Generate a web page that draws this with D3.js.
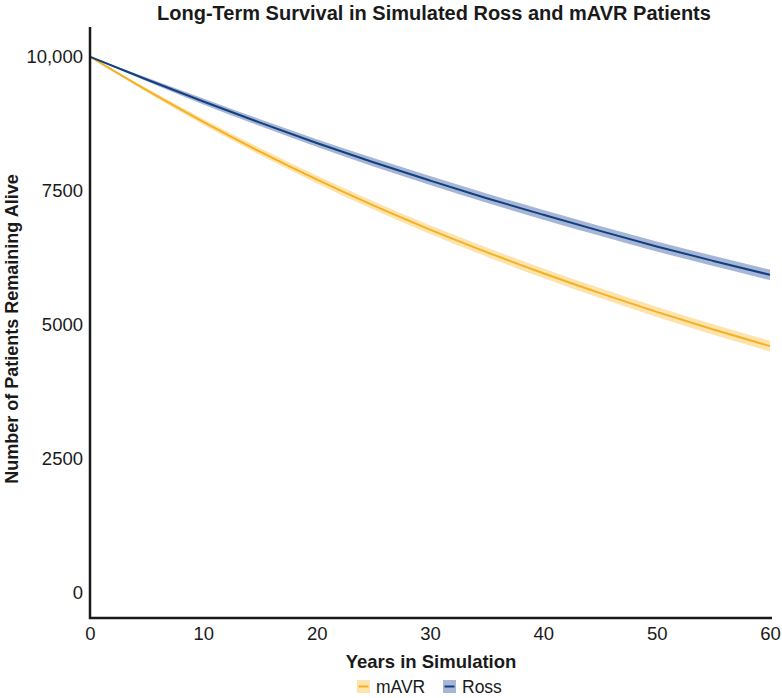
<!DOCTYPE html>
<html><head><meta charset="utf-8">
<script src="https://cdn.jsdelivr.net/npm/d3@7"></script>
<style>body{margin:0;background:#fff;}svg{display:block;}</style>
</head><body>
<script>
const years = [0,5,10,15,20,25,30,35,40,45,50,55,60];
const rossMean = [10000,9575,9165,8770,8390,8030,7690,7360,7050,6750,6460,6190,5930];
const mavrMean = [10000,9375,8785,8230,7710,7225,6775,6355,5960,5590,5240,4910,4600];
const rossHalf = [0,35,55,65,72,78,82,86,90,92,94,96,98];
const mavrHalf = [0,35,55,65,72,78,82,86,90,94,96,98,100];
const yTicks = [0,2500,5000,7500,10000];
const yTickLabels = ["0","2500","5000","7500","10,000"];
const xTicks = [0,10,20,30,40,50,60];
const seriesNames = ["mAVR","Ross"];

const W=782,H=698;
const svg=d3.select("body").append("svg").attr("width",W).attr("height",H);
const x=d3.scaleLinear().domain([0,60]).range([90,770]);
const y=d3.scaleLinear().domain([0,10000]).range([592.7,56.7]);
const font="Liberation Sans, Arial, Helvetica, sans-serif";

const series=[
 {name:"mAVR",mean:mavrMean,half:mavrHalf,line:"#f5b122",band:"#fde3ad"},
 {name:"Ross",mean:rossMean,half:rossHalf,line:"#123f7d",band:"#a6b6d6"}
];
series.forEach(s=>{
  const pts=years.map((t,i)=>({t,m:s.mean[i],h:s.half[i]}));
  svg.append("path").datum(pts)
    .attr("d",d3.area().x(d=>x(d.t)).y0(d=>y(d.m-d.h)).y1(d=>y(d.m+d.h)).curve(d3.curveMonotoneX))
    .attr("fill",s.band);
});
series.forEach(s=>{
  const pts=years.map((t,i)=>({t,m:s.mean[i]}));
  svg.append("path").datum(pts)
    .attr("d",d3.line().x(d=>x(d.t)).y(d=>y(d.m)).curve(d3.curveMonotoneX))
    .attr("fill","none").attr("stroke",s.line).attr("stroke-width",2);
});

// axes
const xAxis=svg.append("g").attr("transform","translate(0,618)")
  .call(d3.axisBottom(x).tickValues(xTicks).tickSize(0).tickPadding(9));
xAxis.select(".domain").attr("d","M89,0H772").attr("stroke","#1a1a1a").attr("stroke-width",2.5);
xAxis.selectAll("text").attr("font-family",font).attr("font-size",18.5).attr("fill","#1a1a1a");

const yAxis=svg.append("g").attr("transform","translate(90,0)")
  .call(d3.axisLeft(y).tickValues(yTicks).tickFormat((d,i)=>yTickLabels[i]).tickSize(0).tickPadding(7));
yAxis.select(".domain").attr("d","M0,27V619").attr("stroke","#1a1a1a").attr("stroke-width",2.5);
yAxis.selectAll("text").attr("font-family",font).attr("font-size",18.5).attr("fill","#1a1a1a");

svg.append("text").attr("x",434).attr("y",20).attr("text-anchor","middle")
  .attr("font-family","Liberation Sans Narrow, Arial Narrow, "+font).attr("font-weight","bold")
  .attr("font-size",20).attr("fill","#1a1a1a").text("Long-Term Survival in Simulated Ross and mAVR Patients");

svg.append("text").attr("x",431).attr("y",668).attr("text-anchor","middle")
  .attr("font-family",font).attr("font-weight","bold").attr("font-size",18.5).attr("fill","#1a1a1a")
  .text("Years in Simulation");

svg.append("text").attr("transform","translate(18,329) rotate(-90)").attr("text-anchor","middle")
  .attr("font-family",font).attr("font-weight","bold").attr("font-size",18).attr("fill","#1a1a1a")
  .text("Number of Patients Remaining Alive");

// legend
const legX=[357,443];
series.forEach((s,i)=>{
  const g=svg.append("g").attr("transform",`translate(${legX[i]},680)`);
  g.append("rect").attr("x",0).attr("y",0).attr("width",13).attr("height",13).attr("fill",s.band);
  g.append("line").attr("x1",1.5).attr("x2",11.5).attr("y1",6.5).attr("y2",6.5).attr("stroke",s.line).attr("stroke-width",2);
  g.append("text").attr("x",19).attr("y",13).attr("font-family",font).attr("font-size",17.5).attr("fill","#1a1a1a").text(seriesNames[i]);
});
</script>
</body></html>
